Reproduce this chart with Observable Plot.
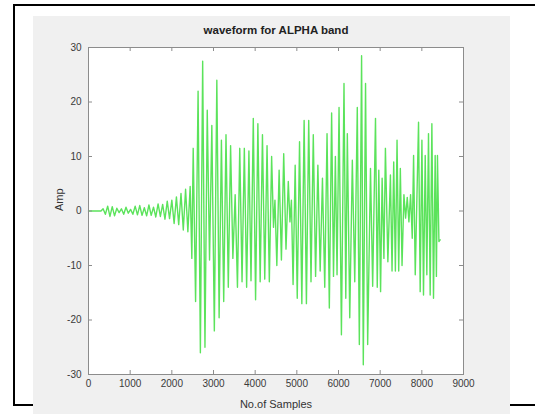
<!DOCTYPE html>
<html><head><meta charset="utf-8">
<script src="https://cdn.jsdelivr.net/npm/d3@7"></script>
<script src="https://cdn.jsdelivr.net/npm/@observablehq/plot@0.6"></script>
<style>
html,body{margin:0;padding:0;background:#fff;}
#wrap{position:relative;width:535px;height:414px;overflow:hidden;}
.ln{position:absolute;background:#000;}
#chart{position:absolute;left:33px;top:16px;}
</style></head><body>
<div id="wrap">
<div class="ln" style="left:13px;top:4px;width:522px;height:2px"></div>
<div class="ln" style="left:13px;top:4px;width:2px;height:401px"></div>
<div class="ln" style="left:13px;top:404px;width:522px;height:2px"></div>
<div id="chart"></div>
</div>
<script>
const titleText = "waveform for ALPHA band";
const xLabel = "No.of Samples";
const yLabel = "Amp";
const xTicks = [0,1000,2000,3000,4000,5000,6000,7000,8000,9000];
const yTicks = [-30,-20,-10,0,10,20,30];

const samples = [
0,300,350,405,460,515,570,625,680,735,790,845,900,955,1010,1065,1120,1175,1230,1285,1340,1395,1450,1505,1560,1615,1670,1725,1780,1835,1890,1945,2000,2055,2110,2165,2220,2275,2330,2385,2440,2480,
2513,2570,2630,2685,2740,2795,2850,2905,2960,3020,3080,3135,3190,3245,3300,3355,3410,3465,3520,3575,3630,3685,3740,3795,3850,3900,
3955,4010,4065,4120,4175,4230,4285,4340,4395,4440,4475,4520,4575,4630,4685,4740,4795,4835,4870,4910,4960,5010,5065,5120,5175,5230,5285,5340,5395,5450,5505,5560,5615,5670,
5725,5780,5835,5880,5925,5965,6013,6070,6132,6175,6212,6270,6332,6390,6451,6500,6554,6595,6649,6700,6768,6820,6888,6930,6967,7010,7047,7090,7126,7185,7246,7285,7325,7365,7405,7445,7484,7525,
7570,7610,7650,7690,7730,7770,7802,7842,7921,7960,8002,8040,8081,8120,8160,8200,8241,8280,8320,8350,8375,8410,8440
];
const amps = [
0,0,0.4,-0.6,0.9,-1.0,0.8,-0.9,0.5,-0.3,0.4,-0.6,0.7,-0.4,0.3,-0.6,0.9,-0.7,1.0,-0.8,0.6,-0.9,1.1,-0.8,0.7,-1.1,1.3,-1.0,1.2,-1.5,1.8,-1.4,2.0,-2.3,2.6,-2.5,3.2,-3.5,4.0,-3.8,4.5,-8.7,
11.5,-16.6,22,-26,27.5,-25,18.5,-9,15.7,-22,24,-19.6,13,-16.6,14,-14,12,-8.7,3,-14,11.5,-13,11.5,-14,11,-12.8,
17,-16.3,16,-13,14,-12.5,12,-13,10,-3,2,-10,7.5,-9,10.5,-7,5.4,-2,2,-13.5,8.4,-16,12.7,-17,16.6,-17,16.6,-13,14,-12,8.4,-11,6,-14,
14.2,-17.8,18,-12,10,-11.7,19,-22.7,23.4,-16,14.2,-19.6,9.3,-13,19,-24.5,28.5,-28.2,23.4,-24.5,7.8,-13.8,17,-14,7.5,-14.8,6,-8.7,11.5,-9.3,6.6,-11,9,-11,13,-11,7.8,-10,
3,-1.3,2.5,-2,3,-5,10.2,-11.7,16.3,-14.8,13,-15.4,10.2,-11.7,14.2,-15.4,16,-16,10.2,-12,10.2,-5.6,-5.3
];

const data = samples.map((s, i) => ({s, a: amps[i]}));

const W = 477, H = 398, mt = 31, mb = 40, ml = 55, mr = 47;
const innerH = H - mt - mb, innerW = W - ml - mr;
const axisColor = "#8c8c8c";

const chart = Plot.plot({
  width: W, height: H,
  marginTop: mt, marginBottom: mb, marginLeft: ml, marginRight: mr,
  style: {background: "#f0f0f0", fontFamily: "'Liberation Sans', Arial, sans-serif", fontSize: "10px", color: "#3a3a3a"},
  x: {domain: [0, 9000]},
  y: {domain: [-30, 30]},
  marks: [
    Plot.frame({fill: "white"}),
    Plot.line(data, {x: "s", y: "a", stroke: "#5be35b", strokeWidth: 1.4}),
    Plot.frame({stroke: axisColor}),
    Plot.tickX(xTicks, {x: d => d, insetTop: innerH - 4, stroke: axisColor}),
    Plot.tickX(xTicks, {x: d => d, insetBottom: innerH - 4, stroke: axisColor}),
    Plot.tickY(yTicks, {y: d => d, insetRight: innerW - 4, stroke: axisColor}),
    Plot.tickY(yTicks, {y: d => d, insetLeft: innerW - 4, stroke: axisColor}),
    Plot.axisX(xTicks, {tickSize: 0, tickPadding: 5, label: null, tickFormat: d => String(d)}),
    Plot.axisY(yTicks, {tickSize: 0, tickPadding: 7, label: null, tickFormat: d => String(d)}),
    Plot.text([titleText], {text: d => d, frameAnchor: "top", dy: -22, fontWeight: "bold", fontSize: 11.5, fill: "#222"}),
    Plot.text([xLabel], {text: d => d, frameAnchor: "bottom", dy: 33, fontSize: 11, fill: "#333"}),
    Plot.text([yLabel], {text: d => d, frameAnchor: "left", dx: -29, rotate: -90, fontSize: 11, fill: "#333"})
  ]
});
document.getElementById("chart").appendChild(chart);
</script>
</body></html>
